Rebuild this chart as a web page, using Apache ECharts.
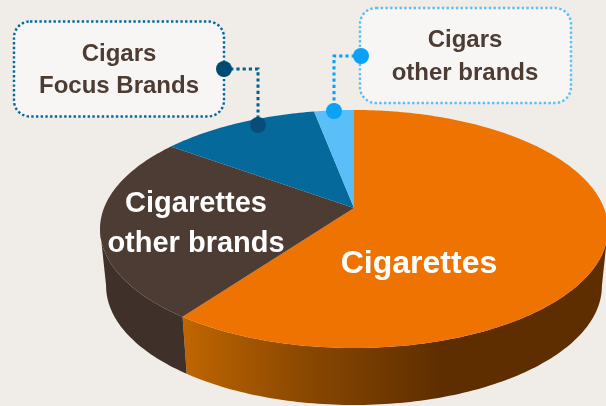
<!DOCTYPE html>
<html>
<head>
<meta charset="utf-8">
<style>html,body{margin:0;padding:0;background:#f0ede9}#c{width:606px;height:406px}</style>
<script src="https://cdn.jsdelivr.net/npm/echarts@6/dist/echarts.min.js"></script>
</head>
<body>
<div id="c"></div>
<script>
// Revenue mix, clockwise from twelve o'clock
const sliceNames = ['Cigarettes', 'Cigarettes other brands', 'Cigars Focus Brands', 'Cigars other brands'];
const sliceValues = [60, 25, 12, 3];
const topColors = ['#ee7300', '#4d3c33', '#05699c', '#5abef8'];

const FONT = '"Liberation Sans", Arial, sans-serif';
const DARK = '#4d3c33';
const total = sliceValues.reduce((a, b) => a + b, 0);

// Perspective disc: the far rim is foreshortened relative to the near rim
const tilt = 0.1765;
const topDisc = { x: 354, y: 208, a: 250, b: 115.3 };
const baseDisc = { x: 354, y: 265, a: 244, b: 115.3 };
// Only the near wall shows; it runs between the rim's two widest points
const wallStart = 100 / 360;
const wallEnd = 260 / 360;

function rimPoint(disc, frac) {
  const t = frac * Math.PI * 2;
  const u = Math.sin(t), v = Math.cos(t), w = 1 + tilt * v;
  return [disc.x + disc.a * u / w, disc.y - disc.b * v / w];
}
function arc(disc, from, to) {
  const n = Math.max(2, Math.ceil((to - from) * 360));
  const pts = [];
  for (let i = 0; i <= n; i++) pts.push(rimPoint(disc, from + (to - from) * i / n));
  return pts;
}
function sliceRange(i) {
  const start = sliceValues.slice(0, i).reduce((a, b) => a + b, 0) / total;
  return [start, start + sliceValues[i] / total];
}

const sideFills = [
  { type: 'linear', x: 183, y: 0, x2: 440, y2: 0, global: true, colorStops: [
    { offset: 0, color: '#c06600' }, { offset: 0.47, color: '#8a4800' },
    { offset: 1, color: '#5f2e00' }] },
  '#3f3129', '#04466a', '#3d80a8'
];

function renderSide(params) {
  const range = sliceRange(params.dataIndex);
  const a = Math.max(range[0], wallStart), b = Math.min(range[1], wallEnd);
  if (a >= b) return null;
  return { type: 'polygon', shape: { points: arc(topDisc, a, b).concat(arc(baseDisc, a, b).reverse()) },
    style: { fill: sideFills[params.dataIndex] } };
}
function renderTop(params) {
  const [a, b] = sliceRange(params.dataIndex);
  return { type: 'polygon', shape: { points: [[topDisc.x, topDisc.y]].concat(arc(topDisc, a, b)) },
    style: { fill: topColors[params.dataIndex] } };
}

const seriesData = sliceNames.map((name, i) => ({ name, value: sliceValues[i] }));

function text(x, y, str, size, fill) {
  return { type: 'text', z: 20, x, y, style: { text: str, fill, font: 'bold ' + size + 'px ' + FONT,
    align: 'center', verticalAlign: 'middle' } };
}
function callout(x, y, w, h, color) {
  return { type: 'rect', z: 10, shape: { x, y, width: w, height: h, r: 16 },
    style: { fill: '#f7f6f5', stroke: color, lineWidth: 2.4, lineDash: [2.4, 2.3] } };
}
function leader(points, color) {
  return { type: 'polyline', z: 11, shape: { points },
    style: { fill: 'none', stroke: color, lineWidth: 3, lineDash: [3.2, 3] } };
}
function dot(x, y, color) {
  return { type: 'circle', z: 12, shape: { cx: x, cy: y, r: 8 }, style: { fill: color } };
}

const chart = echarts.init(document.getElementById('c'), null, { renderer: 'canvas' });
chart.setOption({
  backgroundColor: '#f0ede9',
  animation: false,
  series: [
    { type: 'custom', coordinateSystem: 'none', z: 1, renderItem: renderSide, data: seriesData },
    { type: 'custom', coordinateSystem: 'none', z: 2, renderItem: renderTop, data: seriesData }
  ],
  graphic: [
    callout(14, 21.5, 210, 95, '#05699c'),
    callout(360, 8, 211, 95, '#5abef8'),
    leader([[224, 69], [258, 69], [258, 125]], '#05608f'),
    leader([[361, 56], [334, 56], [334, 111]], '#0ba2f5'),
    dot(224, 69, '#004a73'),
    dot(258, 125, '#064e78'),
    dot(361, 56, '#0ba2f5'),
    dot(334, 111, '#0ba2f5'),
    text(119, 54.5, 'Cigars', 24, DARK),
    text(119, 86.5, 'Focus Brands', 24, DARK),
    text(465, 40.5, 'Cigars', 24, DARK),
    text(465, 73.5, 'other brands', 24, DARK),
    text(196, 203.5, 'Cigarettes', 29, '#ffffff'),
    text(196, 243.5, 'other brands', 29, '#ffffff'),
    text(419, 264.5, 'Cigarettes', 32, '#ffffff')
  ]
});
</script>
</body>
</html>
